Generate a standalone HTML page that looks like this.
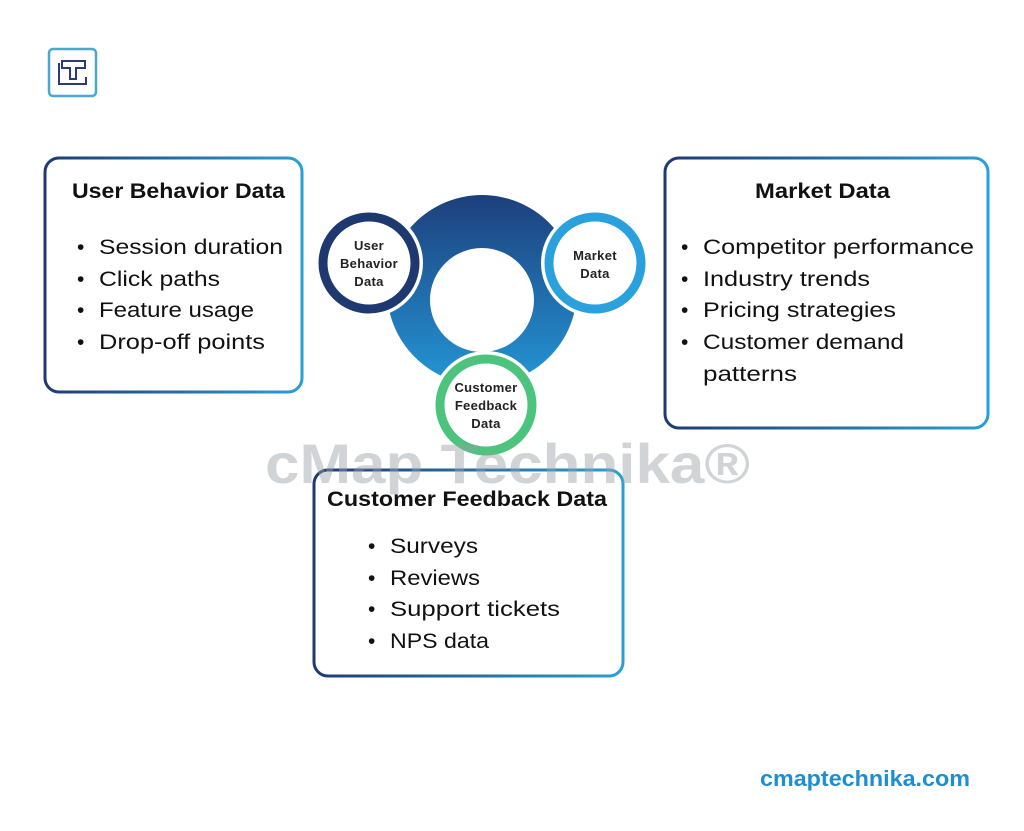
<!DOCTYPE html>
<html><head><meta charset="utf-8"><style>
html,body{margin:0;padding:0;background:#fff;}
svg{display:block;}
text{font-family:"Liberation Sans",sans-serif;}
</style></head><body>
<svg width="1024" height="831" viewBox="0 0 1024 831" xmlns="http://www.w3.org/2000/svg">
<defs>
<linearGradient id="bd" x1="0" y1="0" x2="1" y2="0">
<stop offset="0" stop-color="#1f3a72"/><stop offset="1" stop-color="#2a9fd6"/></linearGradient>
<linearGradient id="ring" x1="0" y1="0" x2="0" y2="1">
<stop offset="0" stop-color="#1d3f7c"/><stop offset="1" stop-color="#2496d6"/></linearGradient>
</defs>
<rect width="1024" height="831" fill="#fff"/>
<!-- logo -->
<rect x="49" y="49" width="47" height="47" rx="4" fill="none" stroke="#4aa8cf" stroke-width="2.5"/>
<path d="M62 61 H85 V68 H76 V79 H70 V68 H62 Z" fill="none" stroke="#2a3b78" stroke-width="2"/>
<path d="M59 63 V84 H86 V77" fill="none" stroke="#2a3b78" stroke-width="2"/>
<!-- boxes -->
<rect x="45" y="158" width="257" height="234" rx="14" fill="#fff" stroke="url(#bd)" stroke-width="3"/>
<rect x="665" y="158" width="323" height="270" rx="14" fill="#fff" stroke="url(#bd)" stroke-width="3"/>
<rect x="314" y="470" width="309" height="206" rx="14" fill="#fff" stroke="url(#bd)" stroke-width="3"/>
<!-- ring -->
<path fill-rule="evenodd" fill="url(#ring)" d="M387 290 a95 95 0 1 0 190 0 a95 95 0 1 0 -190 0 Z M430 300 a52 52 0 1 0 104 0 a52 52 0 1 0 -104 0 Z"/>
<circle cx="369" cy="263" r="54" fill="#fff"/>
<circle cx="369" cy="263" r="46" fill="none" stroke="#1e3870" stroke-width="9"/>
<circle cx="595" cy="263" r="54" fill="#fff"/>
<circle cx="595" cy="263" r="46" fill="none" stroke="#2aa0dc" stroke-width="9"/>
<circle cx="486" cy="405" r="54" fill="#fff"/>
<circle cx="486" cy="405" r="46" fill="none" stroke="#4cc47d" stroke-width="9"/>
<g font-size="13" font-weight="bold" fill="#222" text-anchor="middle" letter-spacing="0.3">
<text x="369" y="250">User</text><text x="369" y="268">Behavior</text><text x="369" y="286">Data</text>
<text x="595" y="260">Market</text><text x="595" y="278">Data</text>
<text x="486" y="392">Customer</text><text x="486" y="410">Feedback</text><text x="486" y="428">Data</text>
</g>
<!-- watermark -->
<text x="265" y="483" font-size="56" font-weight="bold" fill="#9aa0a6" fill-opacity="0.45" textLength="485" lengthAdjust="spacingAndGlyphs">cMap Technika®</text>
<!-- box text -->
<g font-size="21" fill="#111" lengthAdjust="spacingAndGlyphs">
<text x="72" y="198" font-weight="bold" textLength="213" lengthAdjust="spacingAndGlyphs">User Behavior Data</text>
<text x="77" y="254">•</text><text x="99" y="254" textLength="184" lengthAdjust="spacingAndGlyphs">Session duration</text>
<text x="77" y="286">•</text><text x="99" y="286" textLength="121" lengthAdjust="spacingAndGlyphs">Click paths</text>
<text x="77" y="317">•</text><text x="99" y="317" textLength="155" lengthAdjust="spacingAndGlyphs">Feature usage</text>
<text x="77" y="349">•</text><text x="99" y="349" textLength="166" lengthAdjust="spacingAndGlyphs">Drop-off points</text>

<text x="755" y="198" font-weight="bold" textLength="135" lengthAdjust="spacingAndGlyphs">Market Data</text>
<text x="681" y="254">•</text><text x="703" y="254" textLength="271" lengthAdjust="spacingAndGlyphs">Competitor performance</text>
<text x="681" y="286">•</text><text x="703" y="286" textLength="167" lengthAdjust="spacingAndGlyphs">Industry trends</text>
<text x="681" y="317">•</text><text x="703" y="317" textLength="193" lengthAdjust="spacingAndGlyphs">Pricing strategies</text>
<text x="681" y="349">•</text><text x="703" y="349" textLength="201" lengthAdjust="spacingAndGlyphs">Customer demand</text>
<text x="703" y="381" textLength="94" lengthAdjust="spacingAndGlyphs">patterns</text>

<text x="327" y="506" font-weight="bold" textLength="280" lengthAdjust="spacingAndGlyphs">Customer Feedback Data</text>
<text x="368" y="553">•</text><text x="390" y="553" textLength="88" lengthAdjust="spacingAndGlyphs">Surveys</text>
<text x="368" y="585">•</text><text x="390" y="585" textLength="90" lengthAdjust="spacingAndGlyphs">Reviews</text>
<text x="368" y="616">•</text><text x="390" y="616" textLength="170" lengthAdjust="spacingAndGlyphs">Support tickets</text>
<text x="368" y="648">•</text><text x="390" y="648" textLength="99" lengthAdjust="spacingAndGlyphs">NPS data</text>
</g>
<text x="760" y="786" font-size="22" font-weight="bold" fill="#1c8fd0" textLength="210" lengthAdjust="spacingAndGlyphs">cmaptechnika.com</text>
</svg>
</body></html>
